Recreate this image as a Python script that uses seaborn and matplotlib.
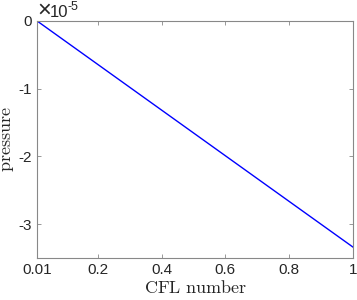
import numpy as np
import pandas as pd
import matplotlib
matplotlib.use("Agg")
import matplotlib.pyplot as plt
import seaborn as sns
from matplotlib.ticker import FuncFormatter

cfl = [0.01, 1.0]
pressure = [0.0, -3.34e-5]
xticks = [0.01, 0.2, 0.4, 0.6, 0.8, 1.0]
xticklabels = ['0.01', '0.2', '0.4', '0.6', '0.8', '1']
yticks = [0.0, -1e-5, -2e-5, -3e-5]

sns.set_style("white")
plt.rcParams['font.family'] = ['Liberation Sans', 'DejaVu Sans']
plt.rcParams['axes.unicode_minus'] = False
plt.rcParams['mathtext.fontset'] = 'cm'

df = pd.DataFrame({'CFL number': cfl, 'pressure': pressure})

fig = plt.figure(figsize=(3.57, 3.0), dpi=100)
ax = fig.add_axes([0.104, 0.14, 0.885, 0.79])
sns.lineplot(data=df, x='CFL number', y='pressure', color='#0000ff', linewidth=1.0, ax=ax)

ax.set_xlim(0.01, 1.0)
ax.set_ylim(-3.5e-5, 0)
ax.set_xticks(xticks)
ax.set_xticklabels(xticklabels)
ax.set_yticks(yticks)
ax.yaxis.set_major_formatter(FuncFormatter(lambda v, p: '%g' % round(v / 1e-5, 6)))

for s in ax.spines.values():
    s.set_color('#888888')
    s.set_linewidth(0.8)
ax.tick_params(direction='in', length=3, width=0.6, colors='#888888', labelcolor='#262626',
               labelsize=11, top=True, right=True, bottom=True, left=True)

# exponent label, MATLAB style
fig.text(37 / 357, 1 - 17 / 300, '\u00d7', fontsize=17, color='#262626',
         ha='left', va='baseline')
fig.text(50 / 357, 1 - 17 / 300, '10', fontsize=12, color='#262626',
         ha='left', va='baseline')
fig.text(68 / 357, 1 - 1 / 300, '-5', fontsize=9, color='#262626',
         ha='left', va='top')

ax.set_xlabel(r'$\mathrm{CFL\ number}$', fontsize=13, labelpad=2)
ax.set_ylabel(r'$\mathrm{pressure}$', fontsize=13, labelpad=2)

fig.savefig('out.png', dpi=100)
